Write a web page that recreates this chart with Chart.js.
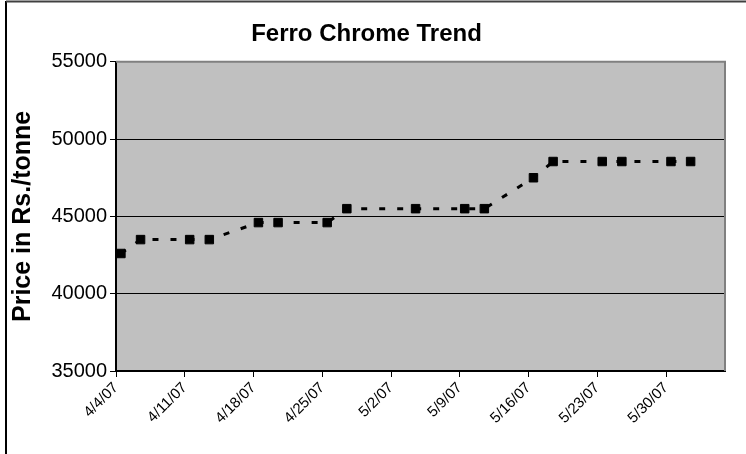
<!DOCTYPE html>
<html>
<head>
<meta charset="utf-8">
<script src="https://cdn.jsdelivr.net/npm/chart.js@4/dist/chart.umd.min.js"></script>
<style>
    html, body { margin: 0; padding: 0; background: #fff; }
    #wrap { width: 746px; height: 454px; }
</style>
</head>
<body>
<div id="wrap"><canvas id="trend" width="746" height="454"></canvas></div>
<script>
    // observation dates (m/d/yy) and price in Rs./tonne
    const priceDates = ["4/4/07", "4/6/07", "4/11/07", "4/13/07", "4/18/07", "4/20/07", "4/25/07", "4/27/07",
        "5/4/07", "5/9/07", "5/11/07", "5/16/07", "5/18/07", "5/23/07", "5/25/07", "5/30/07", "6/1/07"];
    const prices = [42600, 43500, 43500, 43500, 44600, 44600, 44600, 45500,
        45500, 45500, 45500, 47500, 48550, 48550, 48550, 48550, 48550];
    const tickLabels = ["4/4/07", "4/11/07", "4/18/07", "4/25/07", "5/2/07", "5/9/07", "5/16/07", "5/23/07", "5/30/07"];
    const yTicks = [35000, 40000, 45000, 50000, 55000];

    const FONT = "'Liberation Sans', Arial, sans-serif";
    const DAY = 86400000;

    function parseDate(s) {
        const p = s.split("/");
        return Date.UTC(2000 + Number(p[2]), Number(p[0]) - 1, Number(p[1]));
    }

    const t0 = parseDate(tickLabels[0]);
    const dayOf = s => Math.round((parseDate(s) - t0) / DAY);
    // Excel date axis: each day is a slot, the point sits in its middle
    const points = priceDates.map((d, i) => ({ x: dayOf(d) + 0.5, y: prices[i] }));
    const tickDays = tickLabels.map(dayOf);

    const chartFrame = {
        id: "chartFrame",
        beforeDraw(chart) {
            const { ctx, chartArea: a } = chart;
            ctx.save();
            ctx.fillStyle = "#C0C0C0";
            ctx.fillRect(a.left, a.top, a.right - a.left, a.bottom - a.top);
            ctx.restore();
        },
        afterDraw(chart) {
            const { ctx, chartArea: a } = chart;
            ctx.save();
            ctx.strokeStyle = "#808080";
            ctx.lineWidth = 2;
            ctx.beginPath();
            ctx.moveTo(a.left, a.top);
            ctx.lineTo(a.right, a.top);
            ctx.lineTo(a.right, a.bottom);
            ctx.stroke();
            // outer chart border
            ctx.strokeStyle = "#000";
            ctx.beginPath();
            ctx.moveTo(6, 454);
            ctx.lineTo(6, 1);
            ctx.stroke();
            ctx.strokeStyle = "#404040";
            ctx.beginPath();
            ctx.moveTo(6, 1.5);
            ctx.lineTo(746, 1.5);
            ctx.stroke();
            ctx.restore();
        }
    };

    new Chart(document.getElementById("trend"), {
        type: "line",
        data: {
            datasets: [{
                label: "Ferro Chrome",
                data: points,
                borderColor: "#000",
                borderWidth: 3,
                borderDash: [6, 12],
                fill: false,
                tension: 0,
                pointStyle: "rect",
                pointRadius: 6,
                pointBackgroundColor: "#000",
                pointBorderColor: "#000",
                pointBorderWidth: 1
            }]
        },
        options: {
            responsive: false,
            animation: false,
            layout: { padding: { left: 8, right: 21, top: 0, bottom: 0 } },
            plugins: {
                legend: { display: false },
                tooltip: { enabled: false },
                title: {
                    display: true,
                    text: "Ferro Chrome Trend",
                    color: "#000",
                    font: { family: FONT, size: 24, weight: "bold" },
                    padding: { top: 20, bottom: 13 }
                }
            },
            scales: {
                x: {
                    type: "linear",
                    min: 0,
                    max: 62,
                    afterBuildTicks: s => { s.ticks = tickDays.map(v => ({ value: v })); },
                    afterFit: s => { s.height = 83; },
                    ticks: {
                        autoSkip: false,
                        maxRotation: 45,
                        minRotation: 45,
                        color: "#000",
                        font: { family: FONT, size: 15 },
                        padding: 2,
                        callback: v => tickLabels[tickDays.indexOf(v)] || ""
                    },
                    grid: { drawOnChartArea: false, drawTicks: true, tickLength: 6, tickColor: "#000" },
                    border: { color: "#000", width: 2 }
                },
                y: {
                    min: 35000,
                    max: 55000,
                    afterBuildTicks: s => { s.ticks = yTicks.map(v => ({ value: v })); },
                    afterFit: s => { s.width = 108; },
                    ticks: {
                        color: "#000",
                        font: { family: FONT, size: 20 },
                        padding: 3,
                        callback: v => String(v)
                    },
                    grid: {
                        color: c => (c.tick && c.tick.value === 55000 ? "#808080" : "#000"),
                        lineWidth: 1,
                        tickLength: 6,
                        tickColor: "#000"
                    },
                    border: { color: "#000", width: 2 },
                    title: {
                        display: true,
                        text: "Price in Rs./tonne",
                        color: "#000",
                        font: { family: FONT, size: 25, weight: "bold" },
                        padding: { top: 0, bottom: 0 }
                    }
                }
            }
        },
        plugins: [chartFrame]
    });
</script>
</body>
</html>
